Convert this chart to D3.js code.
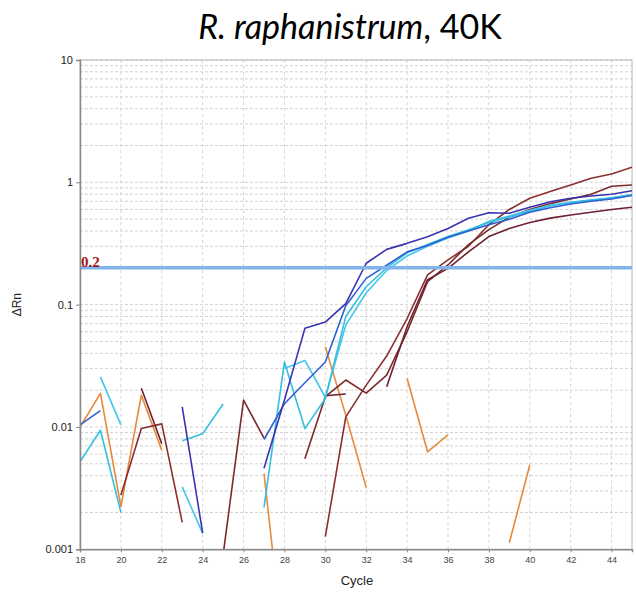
<!DOCTYPE html>
<html>
<head>
<meta charset="utf-8">
<script src="https://cdn.jsdelivr.net/npm/d3@7"></script>
<style>
  body { margin: 0; background: #fff; }
  svg { display: block; }
</style>
</head>
<body>
<div id="chart"></div>
<script>
// cycles on the x axis
const cycles = d3.range(18, 46);

// delta Rn per cycle (null = no point on a log scale)
const blue1 = [null, null, null, null, null, 0.0146, 0.00136, null, null, 0.0046, 0.0166, 0.064, 0.072, 0.102, 0.218, 0.283, 0.317, 0.359, 0.42, 0.508, 0.564, 0.558, 0.625, 0.694, 0.74, 0.773, 0.80, 0.853];
const blue2 = [0.0104, 0.0136, null, null, null, null, null, null, null, 0.0079, 0.0155, 0.023, 0.034, 0.098, 0.164, 0.21, 0.27, 0.305, 0.355, 0.40, 0.45, 0.50, 0.57, 0.62, 0.665, 0.70, 0.73, 0.78];
const cyan1 = [0.0052, 0.0094, 0.0020, null, null, 0.0077, 0.0088, 0.0154, null, 0.0022, 0.034, 0.0097, 0.0171, 0.080, 0.14, 0.20, 0.265, 0.31, 0.36, 0.41, 0.47, 0.52, 0.58, 0.64, 0.68, 0.72, 0.74, 0.79];
const cyan2 = [null, 0.0257, 0.0104, null, null, 0.00324, 0.00135, null, null, null, 0.030, 0.035, 0.0175, 0.068, 0.125, 0.19, 0.25, 0.30, 0.35, 0.40, 0.48, 0.53, 0.59, 0.65, 0.69, 0.71, 0.75, 0.79];
const brown1 = [null, null, 0.00277, 0.0097, 0.0106, 0.00166, null, null, null, null, null, null, 0.00127, 0.0121, 0.022, 0.038, 0.077, 0.175, 0.232, 0.30, 0.45, 0.60, 0.74, 0.84, 0.95, 1.08, 1.17, 1.33];
const brown2 = [null, null, null, null, null, null, null, 0.0009, 0.0166, 0.0081, null, 0.0055, 0.0177, 0.0242, 0.0189, 0.0265, 0.060, 0.154, 0.211, 0.31, 0.41, 0.52, 0.60, 0.67, 0.73, 0.80, 0.93, 0.95];
const brown3 = [null, null, null, 0.0207, 0.0073, null, null, null, null, null, null, null, 0.0180, 0.0186, null, 0.0213, 0.066, 0.16, 0.198, 0.27, 0.36, 0.42, 0.47, 0.51, 0.54, 0.57, 0.60, 0.625];
const orange1 = [0.010, 0.0188, 0.00223, 0.0182, 0.00647, null, null, null, null, null, null, null, 0.0453, 0.0125, 0.0032, null, null, null, null, null, null, 0.00113, 0.00489, null, null, null, null, null];
const orange2 = [null, null, null, null, null, null, null, null, null, 0.00417, 0.00013, null, null, null, null, null, 0.0249, 0.00627, 0.0086, null, null, null, null, null, null, null, null, null];

const seriesList = [
  { values: orange1, color: "#e8893a" },
  { values: orange2, color: "#e58a3c" },
  { values: brown1, color: "#8a2f2f" },
  { values: brown2, color: "#7b2a2c" },
  { values: brown3, color: "#6d2030" },
  { values: cyan2, color: "#45c6ea" },
  { values: cyan1, color: "#35bfe0" },
  { values: blue2, color: "#2f5fd2" },
  { values: blue1, color: "#3834b0" }
];

const xTicks = d3.range(18, 46, 2);
const yTicks = [0.001, 0.01, 0.1, 1, 10];
const threshold = 0.2;

const width = 636, height = 592;
const plotL = 80, plotR = 632, plotT = 60, plotB = 549.3;

const svg = d3.select("#chart").append("svg")
  .attr("width", width)
  .attr("height", height);

const x = d3.scaleLinear().domain([18, 45]).range([plotL, plotR]);
const y = d3.scaleLog().domain([0.001, 10]).range([plotB, plotT]);

// title
const title = svg.append("text")
  .attr("x", 350)
  .attr("y", 39)
  .attr("text-anchor", "middle")
  .style("font-family", "Lato, 'Open Sans', sans-serif")
  .style("font-size", "34px")
  .attr("fill", "#000");
title.append("tspan").style("font-style", "italic").text("R. raphanistrum");
title.append("tspan").text(", 40K");

// grid
const minor = [];
[0.001, 0.01, 0.1, 1].forEach(d => {
  for (let k = 1; k <= 9; k++) minor.push(d * k);
});
minor.push(10);

svg.append("g").selectAll("line")
  .data(minor)
  .enter().append("line")
  .attr("x1", plotL).attr("x2", plotR)
  .attr("y1", d => y(d)).attr("y2", d => y(d))
  .attr("stroke", "#d2d2d2")
  .attr("stroke-width", 1)
  .attr("stroke-dasharray", "3,2");

svg.append("g").selectAll("line")
  .data(xTicks.slice(1))
  .enter().append("line")
  .attr("x1", d => x(d)).attr("x2", d => x(d))
  .attr("y1", plotT).attr("y2", plotB)
  .attr("stroke", "#d6d6d6")
  .attr("stroke-width", 1)
  .attr("stroke-dasharray", "3,3");

// frame
svg.append("rect")
  .attr("x", plotL).attr("y", plotT)
  .attr("width", plotR - plotL).attr("height", plotB - plotT)
  .attr("fill", "none")
  .attr("stroke", "#b8b8b8");

// clip
svg.append("clipPath").attr("id", "plot")
  .append("rect")
  .attr("x", plotL).attr("y", plotT)
  .attr("width", plotR - plotL).attr("height", plotB - plotT);

const line = d3.line()
  .defined(d => d.v != null)
  .x(d => x(d.c))
  .y(d => y(d.v));

svg.append("g").attr("clip-path", "url(#plot)")
  .selectAll("path")
  .data(seriesList)
  .enter().append("path")
  .attr("d", s => line(cycles.map((c, i) => ({ c: c, v: s.values[i] }))))
  .attr("fill", "none")
  .attr("stroke", s => s.color)
  .attr("stroke-width", 1.6)
  .attr("stroke-linejoin", "round");

// threshold
svg.append("line")
  .attr("x1", plotL).attr("x2", plotR)
  .attr("y1", y(threshold)).attr("y2", y(threshold))
  .attr("stroke", "#80b4ea")
  .attr("stroke-width", 3.5);

svg.append("text")
  .attr("x", plotL + 1)
  .attr("y", y(threshold) - 1)
  .style("font-family", "'Liberation Serif', 'DejaVu Serif', serif")
  .style("font-weight", "bold")
  .style("font-size", "15px")
  .attr("fill", "#a01818")
  .text(threshold);

// axes
const yAxis = svg.append("g")
  .attr("transform", `translate(${plotL},0)`)
  .call(d3.axisLeft(y).tickValues(yTicks).tickFormat(d => String(d)).tickSize(4).tickPadding(3));

const xAxis = svg.append("g")
  .attr("transform", `translate(0,${plotB})`)
  .call(d3.axisBottom(x).tickValues(xTicks).tickFormat(d3.format("d")).tickSize(3).tickPadding(4));

[yAxis, xAxis].forEach(g => {
  g.select(".domain").attr("stroke", "#888").attr("stroke-width", 1.5);
  g.selectAll(".tick line").attr("stroke", "#888");
  g.selectAll("text")
    .attr("fill", "#222")
    .style("font-family", "'Liberation Sans', Arial, sans-serif");
});
yAxis.selectAll("text").style("font-size", "11px");
xAxis.selectAll("text").style("font-size", "9px").attr("fill", "#444");

svg.append("text")
  .attr("x", 357)
  .attr("y", 585)
  .attr("text-anchor", "middle")
  .style("font-family", "'Liberation Sans', Arial, sans-serif")
  .style("font-size", "13px")
  .attr("fill", "#222")
  .text("Cycle");

svg.append("text")
  .attr("transform", `translate(21,${y(0.1)}) rotate(-90)`)
  .attr("text-anchor", "middle")
  .style("font-family", "'Liberation Sans', Arial, sans-serif")
  .style("font-size", "12px")
  .attr("fill", "#222")
  .text("ΔRn");
</script>
</body>
</html>
